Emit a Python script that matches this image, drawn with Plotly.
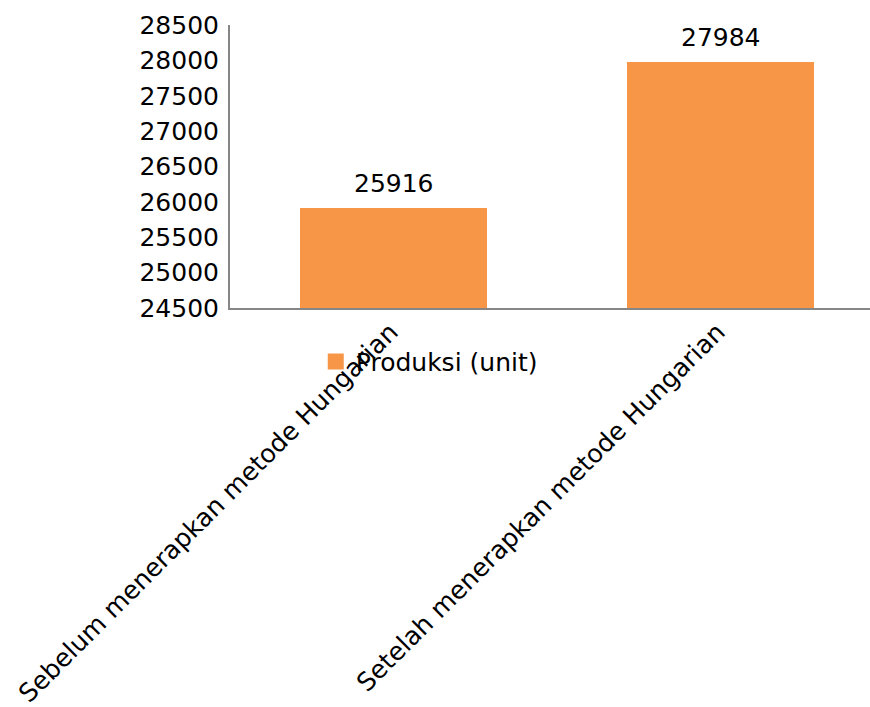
import plotly.graph_objects as go

# Production before and after applying the Hungarian method
categories = ["Sebelum menerapkan metode Hungarian", "Setelah menerapkan metode Hungarian"]
produksi = [25916, 27984]
series_name = "Produksi (unit)"
y_ticks = [24500, 25000, 25500, 26000, 26500, 27000, 27500, 28000, 28500]

FONT = "DejaVu Sans"
BAR_COLOR = "#F79646"
AXIS_COLOR = "#868686"
FS = 25

fig = go.Figure()
fig.add_trace(go.Bar(
    x=categories,
    y=produksi,
    name=series_name,
    marker=dict(color=BAR_COLOR, line=dict(width=0)),
    width=0.572,
    showlegend=False,
))

# legend entry drawn with a larger square swatch
fig.add_trace(go.Scatter(
    x=[categories[0]],
    y=[None],
    mode="markers",
    name=series_name,
    marker=dict(symbol="square", size=16, color=BAR_COLOR),
    showlegend=True,
    hoverinfo="skip",
))

# value labels above each bar
for cat, val in zip(categories, produksi):
    fig.add_annotation(
        x=cat, y=val, text=str(val),
        showarrow=False, yanchor="bottom", yshift=8,
        font=dict(family=FONT, size=FS, color="#000000"),
    )

fig.update_layout(
    width=870,
    height=707,
    margin=dict(l=230, r=0, t=25, b=399, autoexpand=False),
    paper_bgcolor="white",
    plot_bgcolor="white",
    font=dict(family=FONT, size=FS, color="#000000"),
    showlegend=True,
    legend=dict(
        orientation="h",
        x=0.134,
        y=-0.19,
        xanchor="left",
        yanchor="middle",
        font=dict(family=FONT, size=FS, color="#000000"),
        bgcolor="rgba(0,0,0,0)",
        itemwidth=30,
    ),
    bargap=0,
)

fig.update_xaxes(
    type="category",
    range=[-0.5, 1.457],
    tickangle=-45,
    automargin=False,
    showline=True,
    linecolor=AXIS_COLOR,
    linewidth=2,
    ticks="",
    showgrid=False,
    zeroline=False,
    ticklabelstandoff=-3,
    ticklabelshift=-3,
    tickfont=dict(family=FONT, size=25.3, color="#000000"),
)

fig.update_yaxes(
    range=[24500, 28500],
    tickvals=y_ticks,
    ticktext=[str(v) for v in y_ticks],
    automargin=False,
    showline=True,
    linecolor=AXIS_COLOR,
    linewidth=2,
    ticks="",
    showgrid=False,
    zeroline=False,
    ticklabelstandoff=4,
    tickfont=dict(family=FONT, size=FS, color="#000000"),
)

fig.write_html("out.html")
